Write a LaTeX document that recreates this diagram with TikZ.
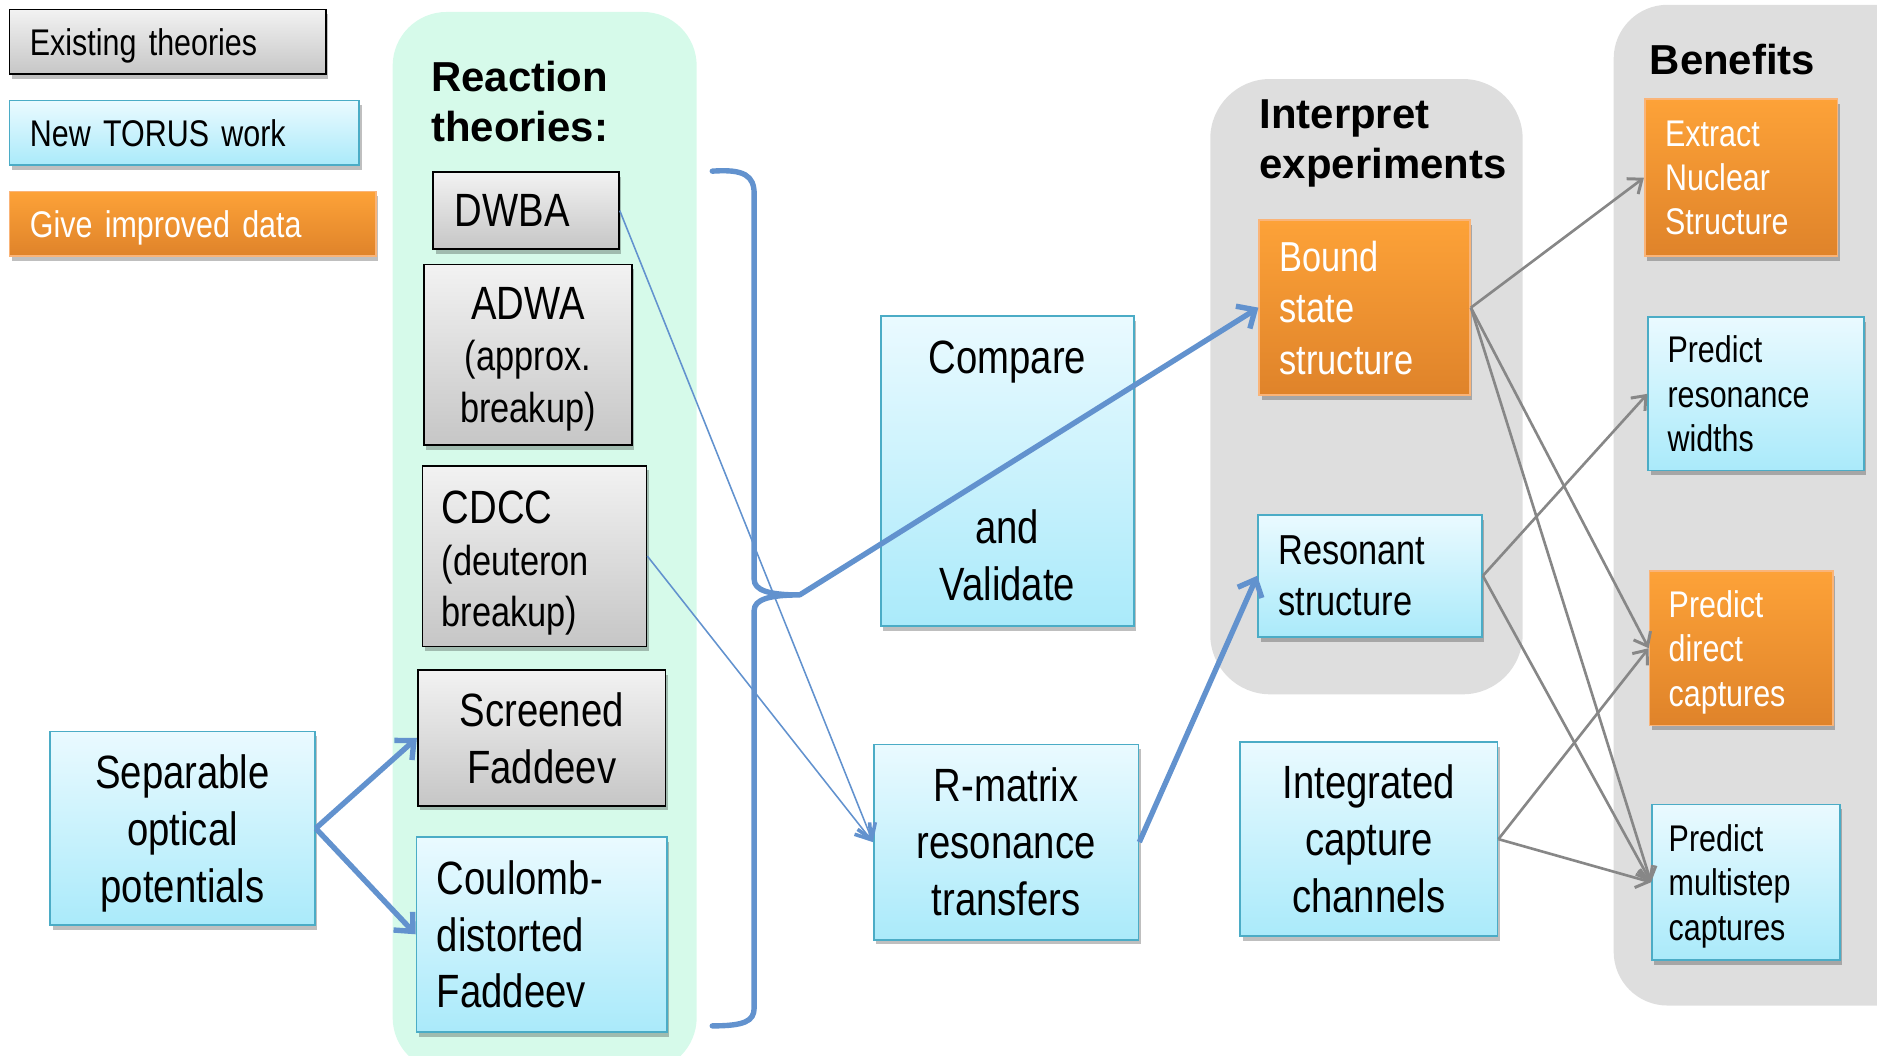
\documentclass[tikz,border=0pt]{standalone}
\usepackage{fontspec}
\setmainfont{Liberation Sans}
\newfontfamily\nf[FakeStretch=0.82]{Liberation Sans}
\usetikzlibrary{arrows.meta,shadows}
\definecolor{mint}{RGB}{214,250,234}
\definecolor{panelgray}{RGB}{222,222,222}
\definecolor{cyanborder}{RGB}{75,172,198}
\definecolor{cyantop}{RGB}{234,250,255}
\definecolor{cyanbot}{RGB}{170,234,250}
\definecolor{graytop}{RGB}{242,242,242}
\definecolor{graybot}{RGB}{198,198,198}
\definecolor{orangetop}{RGB}{253,162,56}
\definecolor{orangebot}{RGB}{223,131,42}
\definecolor{orangeborder}{RGB}{250,180,120}
\definecolor{arrowblue}{RGB}{98,146,206}
\definecolor{arrowgray}{RGB}{135,135,135}
\newcommand\szLeg{\nf\fontsize{31}{37}\selectfont}
\newcommand\szBig{\nf\fontsize{39}{47.5}\selectfont}
\newcommand\szMid{\nf\fontsize{35}{43}\selectfont}
\newcommand\szSml{\nf\fontsize{31}{37}\selectfont}
\newcommand\szTitle{\bfseries\fontsize{35}{42}\selectfont}
\tikzset{
  box/.style={draw, line width=1.5pt, inner sep=0pt,
    drop shadow={shadow xshift=2pt,shadow yshift=-4pt,opacity=0.25,fill=black}},
  oldbox/.style={box, draw=black, top color=graytop, bottom color=graybot},
  newbox/.style={box, draw=cyanborder, top color=cyantop, bottom color=cyanbot},
  databox/.style={box, draw=orangeborder, top color=orangetop, bottom color=orangebot, text=white},
  titletext/.style={font=\szTitle, align=left, inner sep=0pt, anchor=west},
  bluethick/.style={draw=arrowblue, line width=4.5pt, -{Straight Barb[length=12pt,width=22pt]}},
  bluethin/.style={draw=arrowblue, line width=1.3pt, -{Straight Barb[length=12pt,width=16pt,line width=3pt]}},
  grayarr/.style={draw=arrowgray, line width=2.2pt, -{Straight Barb[length=10pt,width=16pt,line width=2.5pt]}},
}
\begin{document}
\begin{tikzpicture}[x=1pt,y=-1pt]
\useasboundingbox (0,0) rectangle (1568,882);
% panels
\fill[mint, rounded corners=45pt] (328,10) rectangle (582,895);
\fill[panelgray, rounded corners=50pt] (1011,66) rectangle (1272,580);
\fill[panelgray, rounded corners=45pt] (1348,4) rectangle (1620,840);
% titles
\node[titletext] (rt) at (360,85) {Reaction\\theories:};
\node[titletext] (ie) at (1052,120) {Interpret\\experiments};
\node[titletext] (bf) at (1378,50) {Benefits};
% legend
\node[oldbox, minimum height=54pt, text width=230pt, inner xsep=17pt, align=left, font=\szLeg, text depth=0pt] (leg1) at (140,35) {Existing theories};
\node[newbox, minimum height=54pt, text width=258pt, inner xsep=17pt, align=left, font=\szLeg, text depth=0pt] (leg2) at (154,111) {New TORUS work};
\node[databox, minimum height=54pt, text width=272pt, inner xsep=17pt, align=left, font=\szLeg, text depth=0pt] (leg3) at (161,187) {Give improved data};
% reaction theories
\node[oldbox, minimum height=64pt, text width=119pt, inner xsep=18pt, align=left, font=\szBig] (dwba) at (439.5,176) {DWBA};
\node[oldbox, minimum width=174pt, minimum height=151pt, align=center, font=\szMid, text depth=0pt] (adwa) at (441,296.5) {{\szBig ADWA}\\(approx.\\breakup)};
\node[oldbox, minimum height=151pt, text width=155pt, inner xsep=16pt, align=left, font=\szMid] (cdcc) at (446.5,464.5) {\rule{0pt}{39pt}{\szBig CDCC}\\(deuteron\\breakup)};
\node[oldbox, minimum width=207pt, minimum height=113pt, align=center, font=\szBig] (scr) at (452.5,616.5) {Screened\\Faddeev};
\node[newbox, minimum height=163pt, text width=175pt, inner xsep=17pt, align=left, font=\szBig] (coul) at (452.5,780.5) {Coulomb-\\distorted\\Faddeev};
\node[newbox, minimum width=221pt, minimum height=162pt, align=center, font=\szBig, text depth=0pt] (sep) at (152.5,692) {Separable\\optical\\potentials};
% middle
\node[newbox, minimum width=211pt, minimum height=259pt, align=center, font=\szBig] (comp) at (841.5,393.5) {Compare\\[95pt]and\\Validate};
\node[newbox, minimum width=221pt, minimum height=163pt, align=center, font=\szBig] (rmat) at (840.5,703.5) {R-matrix\\resonance\\transfers};
% interpret experiments
\node[databox, minimum height=146pt, text width=142pt, inner xsep=17pt, align=left, font=\szMid] (bound) at (1140,257) {Bound\\state\\structure};
\node[newbox, minimum height=102pt, text width=153pt, inner xsep=17pt, align=left, font=\szMid] (reson) at (1144.5,481) {Resonant\\structure};
\node[newbox, minimum width=215pt, minimum height=162pt, align=center, font=\szBig] (integ) at (1143.5,701) {Integrated\\capture\\channels};
% benefits
\node[databox, minimum height=131pt, text width=127pt, inner xsep=17pt, align=left, font=\szSml] (extr) at (1454.5,148.5) {Extract\\Nuclear\\Structure};
\node[newbox, minimum height=128pt, text width=148pt, inner xsep=16pt, align=left, font=\szSml] (pres) at (1467,329) {Predict\\resonance\\widths};
\node[databox, minimum height=129pt, text width=121pt, inner xsep=16pt, align=left, font=\szSml] (pdir) at (1454.5,541.5) {\rule{0pt}{29pt}Predict\\direct\\captures};
\node[newbox, minimum height=130pt, text width=129pt, inner xsep=14pt, align=left, font=\szSml] (pmul) at (1458.5,737) {\rule{0pt}{29pt}Predict\\multistep\\captures};
% brace
\coordinate (bt) at (668,497);
\draw[arrowblue, line width=4.5pt, line cap=round, line join=round]
  (595,143) .. controls (622,141) and (630,147) .. (630,162) -- (630,484)
  .. controls (630,493) and (642,497) .. (bt)
  .. controls (642,497) and (630,501) .. (630,510) -- (630,842)
  .. controls (630,853) and (622,857) .. (595,857);
% blue connectors
\draw[bluethin] (dwba.east) -- (rmat.west);
\draw[bluethin] (cdcc.east) -- (rmat.west);
\draw[bluethick] (sep.east) -- (scr.west);
\draw[bluethick] (sep.east) -- (coul.west);
\draw[bluethick] (bt) -- (bound.west);
\draw[bluethick] (rmat.east) -- (reson.west);
% gray connectors
\draw[grayarr] (bound.east) -- (extr.west);
\draw[grayarr] (bound.east) -- (pdir.west);
\draw[grayarr] (bound.east) -- (pmul.west);
\draw[grayarr] (reson.east) -- (pres.west);
\draw[grayarr] (reson.east) -- (pmul.west);
\draw[grayarr] (integ.east) -- (pdir.west);
\draw[grayarr] (integ.east) -- (pmul.west);
\end{tikzpicture}
\end{document}
